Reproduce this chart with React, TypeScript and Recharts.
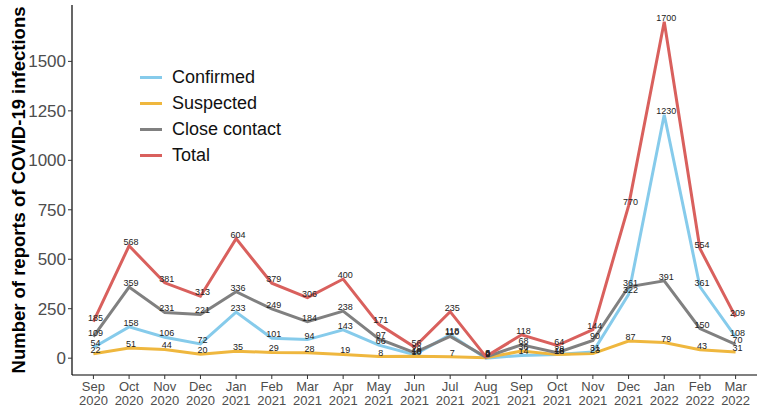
import { LineChart, Line, XAxis, YAxis, LabelList, Label } from "recharts";

const months = ["Sep", "Oct", "Nov", "Dec", "Jan", "Feb", "Mar", "Apr", "May", "Jun", "Jul", "Aug", "Sep", "Oct", "Nov", "Dec", "Jan", "Feb", "Mar"];
const years = ["2020", "2020", "2020", "2020", "2021", "2021", "2021", "2021", "2021", "2021", "2021", "2021", "2021", "2021", "2021", "2021", "2022", "2022", "2022"];

const confirmed = [54, 158, 106, 72, 233, 101, 94, 143, 66, 18, 118, 0, 14, 18, 31, 322, 1230, 361, 108];
const suspected = [22, 51, 44, 20, 35, 29, 28, 19, 8, 10, 7, 2, 36, 18, 23, 87, 79, 43, 31];
const closeContact = [109, 359, 231, 221, 336, 249, 184, 238, 97, 28, 110, 6, 68, 28, 90, 361, 391, 150, 70];
const total = [185, 568, 381, 313, 604, 379, 306, 400, 171, 56, 235, 8, 118, 64, 144, 770, 1700, 554, 209];

const yTicks = [0, 250, 500, 750, 1000, 1250, 1500];

const series = [
  { key: "confirmed", name: "Confirmed", color: "#86CBEB" },
  { key: "suspected", name: "Suspected", color: "#EFB73E" },
  { key: "closeContact", name: "Close contact", color: "#808080" },
  { key: "total", name: "Total", color: "#D9605D" },
];

const data = months.map((m, i) => ({
  idx: i,
  confirmed: confirmed[i],
  suspected: suspected[i],
  closeContact: closeContact[i],
  total: total[i],
}));

const font = "'Liberation Sans', Arial, sans-serif";

const MonthTick = ({ x, y, payload }: any) => {
  const i = payload.value;
  return (
    <g transform={`translate(${x},${y})`}>
      <text textAnchor="middle" fill="#4d4d4d" fontSize={13} fontFamily={font}>
        <tspan x={0} dy={10}>{months[i]}</tspan>
        <tspan x={0} dy={14}>{years[i]}</tspan>
      </text>
    </g>
  );
};

const ValueLabel = ({ x, y, value }: any) => (
  <text x={x + 2} y={y - 1} textAnchor="middle" fontSize={9} fill="#222" fontFamily={font}>
    {value}
  </text>
);

export default function App() {
  return (
    <div style={{ position: "absolute", left: 0, top: 0, width: 762, height: 408, background: "#fff" }}>
      <LineChart width={762} height={408} data={data} margin={{ top: 5, right: 5, left: 0, bottom: 0 }}>
        <XAxis
          dataKey="idx"
          type="number"
          domain={[-0.6, 18.6]}
          ticks={months.map((_, i) => i)}
          interval={0}
          tick={<MonthTick />}
          tickSize={4}
          height={33}
          axisLine={{ stroke: "#000", strokeWidth: 1.2 }}
          tickLine={{ stroke: "#333" }}
        />
        <YAxis
          type="number"
          domain={[-85, 1785]}
          ticks={yTicks}
          allowDataOverflow
          width={72}
          tickSize={4}
          tick={{ fill: "#4d4d4d", fontSize: 17, fontFamily: font }}
          axisLine={{ stroke: "#000", strokeWidth: 1.2 }}
          tickLine={{ stroke: "#333" }}
        >
          <Label
            content={({ viewBox }: any) => {
              const cy = viewBox.y + viewBox.height / 2;
              return (
                <text
                  x={0}
                  y={0}
                  transform={`translate(25,${cy}) rotate(-90)`}
                  textAnchor="middle"
                  fontSize={18.5}
                  fontWeight="bold"
                  fill="#000"
                  fontFamily={font}
                >
                  Number of reports of COVID-19 infections
                </text>
              );
            }}
          />
        </YAxis>
        {series.map((s) => (
          <Line
            key={s.key}
            type="linear"
            dataKey={s.key}
            name={s.name}
            stroke={s.color}
            strokeWidth={3}
            dot={false}
            isAnimationActive={false}
          >
            <LabelList dataKey={s.key} content={<ValueLabel />} />
          </Line>
        ))}
      </LineChart>
      <div style={{ position: "absolute", left: 140, top: 64, fontFamily: font, fontSize: 18, color: "#111" }}>
        {series.map((s) => (
          <div key={s.key} style={{ display: "flex", alignItems: "center", height: 26 }}>
            <div style={{ width: 22, height: 3, background: s.color, marginRight: 10 }} />
            <span>{s.name}</span>
          </div>
        ))}
      </div>
    </div>
  );
}
